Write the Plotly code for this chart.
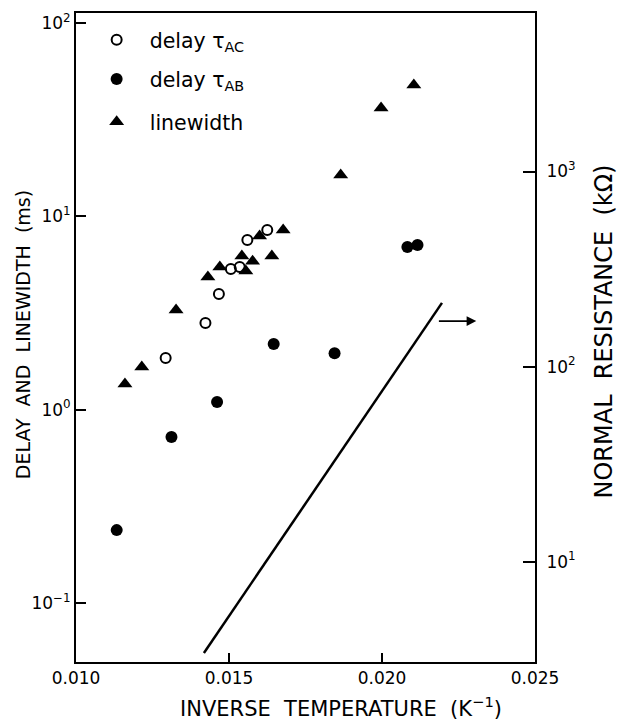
import plotly.graph_objects as go

# ---- data ----
tac_x = [0.01293, 0.01423, 0.01467, 0.01506, 0.01535, 0.01560, 0.01625]
tac_y = [1.85, 2.81, 3.97, 5.34, 5.47, 7.55, 8.51]

tab_x = [0.01133, 0.01312, 0.01461, 0.01646, 0.01845, 0.02083, 0.02116]
tab_y = [0.238, 0.721, 1.095, 2.185, 1.96, 6.94, 7.11]

lw_x = [0.01160, 0.01215, 0.01327, 0.01431, 0.01470, 0.01542, 0.01555,
        0.01577, 0.01600, 0.01640, 0.01677, 0.01865, 0.01997, 0.02104]
lw_y = [1.357, 1.662, 3.28, 4.86, 5.47, 6.24, 5.22,
        5.87, 7.92, 6.24, 8.51, 16.4, 36.4, 47.9]

res_x = [0.01418, 0.02196]
res_y = [3.40, 212.0]

left_tickvals = [0.1, 1, 10, 100]
left_ticktext = ["10<sup>\u22121</sup>", "10<sup>0</sup>", "10<sup>1</sup>", "10<sup>2</sup>"]
right_tickvals = [10, 100, 1000]
right_ticktext = ["10<sup>1</sup>", "10<sup>2</sup>", "10<sup>3</sup>"]

FONT = "DejaVu Sans"
NB = "\u00a0"

x_title = "INVERSE" + NB * 2 + "TEMPERATURE" + NB * 2 + "(K<sup>\u22121</sup>)"
y_title = "DELAY" + NB * 2 + "AND" + NB * 2 + "LINEWIDTH" + NB * 2 + "(ms)"
y2_title = "NORMAL" + NB * 2 + "RESISTANCE" + NB * 2 + "(k\u03a9)"

fig = go.Figure()

fig.add_trace(go.Scatter(
    x=tac_x, y=tac_y, mode="markers", name=NB * 2 + "delay \u03c4<sub>AC</sub>",
    legend="legend",
    marker=dict(symbol="circle-open", size=10, color="black", line=dict(width=2, color="black")),
))
fig.add_trace(go.Scatter(
    x=tab_x, y=tab_y, mode="markers", name=NB * 2 + "delay \u03c4<sub>AB</sub>",
    legend="legend2",
    marker=dict(symbol="circle", size=12, color="black"),
))
fig.add_trace(go.Scatter(
    x=lw_x, y=lw_y, mode="markers", name=NB * 2 + "linewidth",
    legend="legend3",
    marker=dict(symbol="triangle-up", size=13, color="black"),
))
fig.add_trace(go.Scatter(
    x=res_x, y=res_y, mode="lines", yaxis="y2", showlegend=False,
    line=dict(color="black", width=2.5),
))

fig.add_annotation(
    x=0.02308, y=2.233, ax=0.02181, ay=2.233,
    xref="x", yref="y2", axref="x", ayref="y2",
    showarrow=True, arrowhead=2, arrowsize=1.2, arrowwidth=1.6, arrowcolor="black", text="",
)

# axis titles
fig.add_annotation(
    text=x_title, xref="paper", yref="paper", x=0.577, y=-0.069,
    xanchor="center", yanchor="middle", showarrow=False,
    font=dict(family=FONT, size=21, color="black"),
)
fig.add_annotation(
    text=y_title, xref="paper", yref="paper", x=-0.1155, y=0.505,
    xanchor="center", yanchor="middle", textangle=-90, showarrow=False,
    font=dict(family=FONT, size=19, color="black"),
)
fig.add_annotation(
    text=y2_title, xref="paper", yref="paper", x=1.150, y=0.509,
    xanchor="center", yanchor="middle", textangle=-90, showarrow=False,
    font=dict(family=FONT, size=24, color="black"),
)

axis_common = dict(
    showline=True, linecolor="black", linewidth=2,
    ticks="inside", tickcolor="black", tickwidth=2,
    showgrid=False, zeroline=False,
    tickfont=dict(family=FONT, size=17, color="black"),
)

legend_common = dict(
    x=0.045, xanchor="left", yanchor="middle",
    bgcolor="rgba(0,0,0,0)", borderwidth=0,
    font=dict(family=FONT, size=20.5, color="black"),
)

fig.update_layout(
    width=624, height=721,
    margin=dict(l=76, r=89, t=13, b=59),
    paper_bgcolor="white", plot_bgcolor="white",
    font=dict(family=FONT, color="black"),
    xaxis=dict(
        **axis_common, range=[0.010, 0.025], tick0=0.010, dtick=0.005,
        tickformat=".3f", ticklen=9, mirror=True,
    ),
    yaxis=dict(
        **axis_common, type="log", range=[-1.306, 2.053],
        tickvals=left_tickvals, ticktext=left_ticktext, ticklen=10,
    ),
    yaxis2=dict(
        **axis_common, type="log", range=[0.485, 3.813], overlaying="y", side="right",
        tickvals=right_tickvals, ticktext=right_ticktext, ticklen=12,
        ticklabelstandoff=6,
    ),
    legend=dict(**legend_common, y=0.9584),
    legend2=dict(**legend_common, y=0.8980),
    legend3=dict(**legend_common, y=0.8320),
    showlegend=True,
)

fig.write_html("out.html")
